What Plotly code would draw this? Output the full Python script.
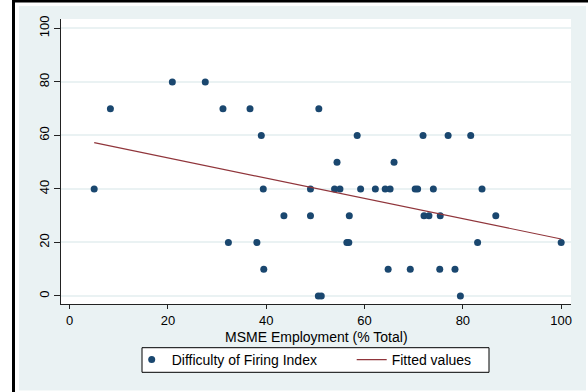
import plotly.graph_objects as go

# Scatter data: MSME employment (% total) vs difficulty of firing index
x_vals = [20.9, 27.6,
          8.3, 31.2, 36.7, 50.7,
          39.0, 58.5, 71.9, 77.0, 81.6,
          54.4, 66.0,
          5.0, 39.4, 49.0, 53.9, 55.0, 59.2, 62.2, 64.2, 65.2, 70.3, 70.8, 74.0, 83.9,
          43.6, 49.0, 56.9, 72.1, 73.1, 75.4, 86.7,
          32.3, 38.1, 56.4, 56.8, 83.0, 100.0,
          39.5, 64.8, 69.3, 75.3, 78.4,
          50.6, 51.2, 79.5]
y_vals = [80, 80,
          70, 70, 70, 70,
          60, 60, 60, 60, 60,
          50, 50,
          40, 40, 40, 40, 40, 40, 40, 40, 40, 40, 40, 40, 40,
          30, 30, 30, 30, 30, 30, 30,
          20, 20, 20, 20, 20, 20,
          10, 10, 10, 10, 10,
          0, 0, 0]

fit_x = [5.0, 100.0]
fit_y = [57.3, 21.3]

x_ticks = [0, 20, 40, 60, 80, 100]
y_ticks = [0, 20, 40, 60, 80, 100]

FONT = "Liberation Sans, Arial, sans-serif"
NAVY = "#1a476f"
MAROON = "#90353b"
BG = "#eaf2f3"

fig = go.Figure()
fig.add_trace(go.Scatter(x=x_vals, y=y_vals, mode="markers",
                         name="Difficulty of Firing Index",
                         marker=dict(color=NAVY, size=7, line=dict(width=0))))
fig.add_trace(go.Scatter(x=fit_x, y=fit_y, mode="lines", name="Fitted values",
                         line=dict(color=MAROON, width=1.2)))

W, H = 588, 392
L, R, T, B = 61, 571, 19, 304
pw, ph = R - L, B - T

def px(x):
    return (x - L) / pw

def py(y):
    return (B - y) / ph

def prect(x0, y0, x1, y1, **kw):
    d = dict(type="rect", xref="paper", yref="paper",
             x0=px(x0), x1=px(x1), y0=py(y1), y1=py(y0), layer="above")
    d.update(kw)
    return d

shapes = [
    # white margins around the light graph region
    prect(0, 0, 19, 392, fillcolor="white", line=dict(width=0)),
    prect(0, 0, 588, 6, fillcolor="white", line=dict(width=0)),
    prect(586, 0, 588, 392, fillcolor="white", line=dict(width=0)),
    prect(0, 390.5, 588, 392, fillcolor="white", line=dict(width=0)),
    # black frame edges (left & top)
    dict(type="line", xref="paper", yref="paper", x0=px(13.5), x1=px(13.5), y0=py(392), y1=py(0),
         line=dict(color="black", width=3), layer="above"),
    dict(type="line", xref="paper", yref="paper", x0=px(12), x1=px(588), y0=py(1), y1=py(1),
         line=dict(color="black", width=3), layer="above"),
    # legend box
    prect(142, 347.7, 489, 372.3, fillcolor="white", line=dict(color="black", width=1)),
]

fig.update_layout(
    width=W, height=H,
    margin=dict(l=L, r=W - R, t=T, b=H - B, pad=0),
    paper_bgcolor=BG, plot_bgcolor="white",
    font=dict(family=FONT, size=13, color="black"),
    shapes=shapes,
    showlegend=True,
    legend=dict(orientation="h", x=px(131.7), xanchor="left", y=py(360), yanchor="middle",
                bgcolor="rgba(0,0,0,0)", borderwidth=0,
                font=dict(family=FONT, size=14, color="black"),
                entrywidth=175, entrywidthmode="pixels", traceorder="normal"),
    annotations=[dict(text="MSME Employment (% Total)", xref="paper", yref="paper",
                      x=0.5, y=py(336.5), xanchor="center", yanchor="middle", showarrow=False,
                      font=dict(family=FONT, size=14, color="black"))],
)
fig.update_xaxes(range=[-1.75, 102.0], tickvals=x_ticks, ticks="outside", ticklen=4,
                 tickcolor="#222", showline=True, linecolor="#222", linewidth=1,
                 showgrid=False, zeroline=False, tickfont=dict(size=13))
fig.update_yaxes(range=[-3.0, 103.5], tickvals=y_ticks, ticks="outside", ticklen=6,
                 tickcolor="#222", showline=True, linecolor="#222", linewidth=1,
                 showgrid=True, gridcolor=BG, gridwidth=1.5, zeroline=False,
                 tickangle=-90, tickfont=dict(size=13))

fig.write_html("out.html")
